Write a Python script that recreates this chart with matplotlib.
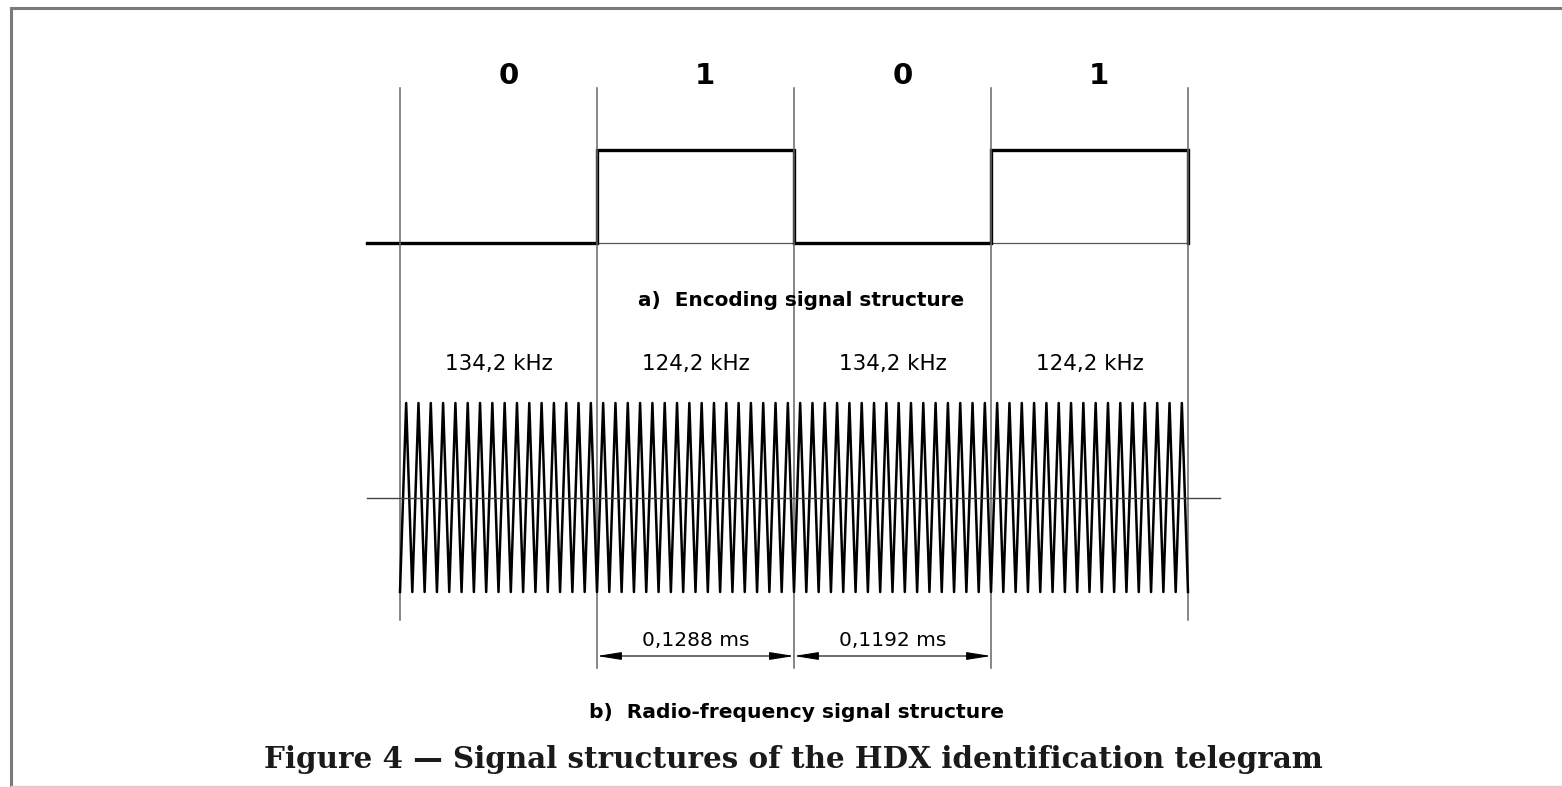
import numpy as np
import matplotlib.pyplot as plt
from matplotlib.transforms import blended_transform_factory

# --- datos del telegrama HDX ---
bits = [0, 1, 0, 1]
freqs_khz = [134.2, 124.2, 134.2, 124.2]
bit_ms = [0.1192, 0.1288, 0.1192, 0.1288]
dim_bits = [1, 2]          # bits acotados abajo

label_a = 'a)  Encoding signal structure'
label_b = 'b)  Radio-frequency signal structure'
caption = 'Figure 4 \u2014 Signal structures of the HDX identification telegram'

W, H = 1562, 787
fig = plt.figure(figsize=(W / 100, H / 100), dpi=100)
fig.patch.set_facecolor('white')

def fx(px):
    return px / W

def fy(py):
    return 1 - py / H

sans = ['DejaVu Sans']
nbits = len(bits)
x0, x1 = 400, 1188
lead = 0.17

# ejes: señal codificada (nivel 0..1) y señal RF (-1..1)
ax_a = fig.add_axes([fx(x0), fy(243), fx(x1 - x0), (243 - 150) / H])
ax_b = fig.add_axes([fx(x0), fy(592), fx(x1 - x0), (592 - 403) / H])
for ax in (ax_a, ax_b):
    ax.set_xlim(0, nbits)
    ax.axis('off')
ax_a.set_ylim(0, 1)
ax_b.set_ylim(-1, 1)

# líneas verticales de separación de bits
tr = blended_transform_factory(ax_b.transData, fig.transFigure)
for i in range(nbits + 1):
    bottom = fy(620) if i in (0, nbits) else fy(668)
    ax_b.plot([i, i], [fy(88), bottom], color='#666666', lw=1.1,
              transform=tr, clip_on=False)

# a) señal codificada
ax_a.plot([0, nbits], [0, 0], color='#555555', lw=0.9, clip_on=False)
sq_x = np.concatenate([[-lead], np.repeat(np.arange(nbits + 1), 2)[1:-1], [nbits]])
sq_y = np.concatenate([[bits[0]], np.repeat(bits, 2), [0]])
ax_a.plot(sq_x, sq_y, color='black', lw=2.4, clip_on=False,
          solid_joinstyle='miter')

# b) señal RF: onda triangular con n ciclos por bit
wx, wy = [], []
for i, (f, d) in enumerate(zip(freqs_khz, bit_ms)):
    n = int(round(f * d))
    k = np.arange(2 * n + (1 if i == nbits - 1 else 0))
    wx.append(i + k / (2 * n))
    wy.append(np.where(k % 2 == 0, -1.0, 1.0))
wx = np.concatenate(wx)
wy = np.concatenate(wy)
ax_b.plot(wx, wy, color='black', lw=1.8, clip_on=False)
ax_b.plot([-lead, nbits + 0.16], [0, 0], color='#444444', lw=1.0, clip_on=False)

# textos de bits y frecuencias
for i, (b, f) in enumerate(zip(bits, freqs_khz)):
    ax_b.text(i + 0.55, fy(76), str(b), transform=tr, ha='center', va='center',
              fontsize=21, fontweight='bold', family=sans)
    ax_b.text(i + 0.5, fy(364), f'{f:.1f}'.replace('.', ',') + ' kHz',
              transform=tr, ha='center', va='center', fontsize=15.4, family=sans)

# cotas de duración
for i in dim_bits:
    ax_b.annotate('', xy=(i, fy(656)), xytext=(i + 1, fy(656)),
                  xycoords=tr, textcoords=tr,
                  arrowprops=dict(arrowstyle='<|-|>,head_length=1.0,head_width=0.16',
                                  mutation_scale=15, color='black', lw=0.8,
                                  shrinkA=0, shrinkB=0))
    ax_b.text(i + 0.5, fy(640), f'{bit_ms[i]:.4f}'.replace('.', ',') + ' ms',
              transform=tr, ha='center', va='center', fontsize=14.5, family=sans)

fig.text(fx(801), fy(301), label_a, ha='center', va='center', fontsize=14.4,
         fontweight='bold', family=sans)
fig.text(fx(796), fy(713), label_b, ha='center', va='center', fontsize=14.6,
         fontweight='bold', family=sans)
fig.text(fx(793), fy(760), caption, ha='center', va='center', fontsize=21.2,
         fontweight='bold', family=['DejaVu Serif'], color='#1a1a1a')

# marco
fig.add_artist(plt.Line2D([fx(11), fx(11)], [0, fy(8)], color='#7a7a7a', lw=2.2))
fig.add_artist(plt.Line2D([fx(11), 1], [fy(8), fy(8)], color='#7a7a7a', lw=2.2))
fig.add_artist(plt.Line2D([fx(11), 1], [fy(786), fy(786)], color='#d0d0d0', lw=1.0))

fig.savefig('out.png', dpi=100, facecolor='white')
